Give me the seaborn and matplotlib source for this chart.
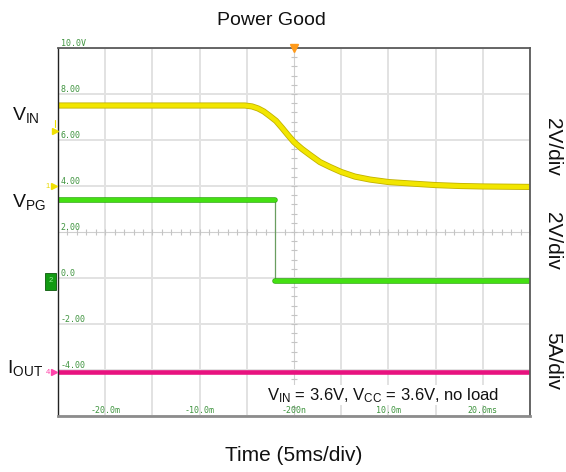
import matplotlib
matplotlib.use('Agg')
import numpy as np
import pandas as pd
import seaborn as sns
import matplotlib.pyplot as plt
from matplotlib import patheffects as pe
from matplotlib.patches import Rectangle
from matplotlib.transforms import blended_transform_factory

# ---------------- data (time in ms, value in display units) ----------------
vin_t = [-25.0, -5.2, -4.45, -3.8, -3.2, -2.55, -1.9, -1.25, -0.65, 0.0, 0.85, 1.7,
         2.75, 3.8, 5.0, 6.45, 8.05, 10.05, 12.3, 15.0, 17.6, 20.0, 25.0]
vin_v = [7.5, 7.5, 7.46, 7.37, 7.24, 7.04, 6.83, 6.52, 6.22, 5.91, 5.61, 5.35,
         5.04, 4.83, 4.61, 4.41, 4.28, 4.17, 4.11, 4.04, 4.0, 3.98, 3.96]

vpg_t = [-25.0, -2.0, -2.0, 25.0]
vpg_v = [3.37, 3.37, -0.12, -0.12]

iout_t = [-25.0, 25.0]
iout_v = [-4.1, -4.1]

x_ticks = [-20, -15, -10, -5, 0, 5, 10, 15, 20]
x_tick_labels = ['-20.0m', '', '-10.0m', '', '-200n', '', '10.0m', '', '20.0ms']
y_ticks = [10, 8, 6, 4, 2, 0, -2, -4]
y_tick_labels = ['10.0V', '8.00', '6.00', '4.00', '2.00', '0.0', '-2.00', '-4.00']

title = 'Power Good'
xlabel = 'Time (5ms/div)'
note = r'V$_{\mathrm{IN}}$ = 3.6V, V$_{\mathrm{CC}}$ = 3.6V, no load'

# ---------------- style ----------------
sns.set_theme(style='white')
plt.rcParams['font.family'] = ['Liberation Sans', 'DejaVu Sans']
plt.rcParams['mathtext.fontset'] = 'custom'
plt.rcParams['mathtext.rm'] = 'Liberation Sans'
plt.rcParams['mathtext.it'] = 'Liberation Sans:italic'
plt.rcParams['mathtext.bf'] = 'Liberation Sans:bold'

W, H = 566, 472
fig = plt.figure(figsize=(W / 100, H / 100), dpi=100)
ax = fig.add_axes([58 / W, 1 - 416 / H, 472 / W, 368 / H])
ax.set_xlim(-25, 25)
ax.set_ylim(-6, 10)

# grid (manual so that tick labels can sit above the note box)
for xv in np.arange(-25, 26, 5):
    if xv == 0:
        ax.axvline(xv, color='#cfcfcf', lw=0.8, zorder=0.5)
    else:
        ax.axvline(xv, color='#e2e2e2', lw=1.4, zorder=0.5)
for yv in np.arange(-6, 11, 2):
    if yv == 2:
        ax.axhline(yv, color='#cfcfcf', lw=0.8, zorder=0.5)
    else:
        ax.axhline(yv, color='#e2e2e2', lw=1.4, zorder=0.5)
# minor ticks on the centre lines
my = np.arange(-6, 10.01, 0.4)
ax.plot(np.zeros_like(my), my, ls='none', marker='_', ms=4, mew=0.8, color='#c4c4c4', zorder=0.6)
mx = np.arange(-25, 25.01, 1.0)
ax.plot(mx, np.full_like(mx, 2.0), ls='none', marker='|', ms=4, mew=0.8, color='#c4c4c4', zorder=0.6)

# ---------------- traces ----------------
df_vin = pd.DataFrame({'t': vin_t, 'v': vin_v})
df_pg = pd.DataFrame({'t': vpg_t, 'v': vpg_v})
df_io = pd.DataFrame({'t': iout_t, 'v': iout_v})

sns.lineplot(data=df_io, x='t', y='v', ax=ax, color='#e8127f', lw=3.3,
             estimator=None, sort=False, legend=False, zorder=2)
# thin falling edge of PG
sns.lineplot(data=df_pg, x='t', y='v', ax=ax, color='#6a9e60', lw=0.9,
             estimator=None, sort=False, legend=False, zorder=2)
for seg in (df_pg.iloc[0:2], df_pg.iloc[2:4]):
    sns.lineplot(data=seg, x='t', y='v', ax=ax, color='#44e012', lw=3.0,
                 estimator=None, sort=False, legend=False, zorder=2.1,
                 path_effects=[pe.Stroke(linewidth=4.0, foreground='#2ea810'), pe.Normal()])
sns.lineplot(data=df_vin, x='t', y='v', ax=ax, color='#f2e600', lw=3.2,
             estimator=None, sort=False, legend=False, zorder=2.2,
             path_effects=[pe.Stroke(linewidth=4.4, foreground='#c2b200'), pe.Normal()])

# ---------------- ticks (inside the plot, scope style) ----------------
ax.set_xticks(x_ticks, x_tick_labels)
ax.set_yticks(y_ticks, y_tick_labels)
ax.tick_params(axis='both', length=0, labelsize=6, labelcolor='#3f943f')
ax.tick_params(axis='y', pad=-2)
ax.tick_params(axis='x', pad=-0.6)
for lab in ax.get_yticklabels():
    lab.set_ha('left'); lab.set_va('bottom'); lab.set_fontfamily('DejaVu Sans Mono')
for lab in ax.get_xticklabels():
    lab.set_va('bottom'); lab.set_fontfamily('DejaVu Sans Mono')
ax.xaxis.set_zorder(4)
ax.yaxis.set_zorder(4)
ax.set_xlabel('')
ax.set_ylabel('')

# spines
ax.spines['left'].set_color('#222222'); ax.spines['left'].set_linewidth(1.0)
ax.spines['top'].set_color('#5a5a5a'); ax.spines['top'].set_linewidth(1.3)
ax.spines['right'].set_color('#5a5a5a'); ax.spines['right'].set_linewidth(1.3)
ax.spines['bottom'].set_color('#8c8c8c'); ax.spines['bottom'].set_linewidth(2.0)
for s in ax.spines.values():
    s.set_zorder(5)

# trigger marker at top centre
ax.plot([0], [10], marker='v', ms=6, color='#ff9a1a', mec='#ff9a1a', clip_on=False, zorder=6)

# channel markers on the left edge
tr = blended_transform_factory(ax.transAxes, ax.transData)
ax.plot([-0.006], [6.4], marker='>', ms=4.5, color='#f0e000', transform=tr, clip_on=False, zorder=6)
ax.plot([-0.006, -0.006], [6.55, 6.85], color='#f0e000', lw=0.8, transform=tr, clip_on=False, zorder=6)
ax.text(-0.022, 4.0, '1', color='#e8d800', fontsize=5.5, ha='center', va='center', transform=tr, zorder=6)
ax.plot([-0.008], [4.0], marker='>', ms=4, color='#f0e000', transform=tr, clip_on=False, zorder=6)
ax.add_patch(Rectangle((-0.0275, -0.52), 0.0235, 0.74, transform=tr, clip_on=False,
                       facecolor='#129a12', edgecolor='#0a5a0a', lw=0.6, zorder=6))
ax.text(-0.016, -0.12, '2', color='#9cf09c', fontsize=5.5, ha='center', va='center', transform=tr, zorder=7)
ax.text(-0.022, -4.1, '4', color='#ff44aa', fontsize=5.5, ha='center', va='center', transform=tr, zorder=6)
ax.plot([-0.008], [-4.1], marker='>', ms=4, color='#ff44aa', transform=tr, clip_on=False, zorder=6)

# note with white background
ax.text(-2.86, -5.1, note, fontsize=12, ha='left', va='center', color='#111111', zorder=3,
        bbox=dict(facecolor='white', edgecolor='none', pad=0.6))

# title and x label
ax.set_title(title, fontsize=14, x=(271 - 58) / 472, pad=16.5, color='#111111')
ax.set_xlabel(xlabel, fontsize=15, color='#111111')
ax.xaxis.set_label_coords(0.5, (416 - 446) / 368)

# channel labels left and scale labels right
fig.text(12 / W, 1 - 120 / H, r'V$_{\mathrm{IN}}$', fontsize=14, ha='left', va='baseline', color='#111111')
fig.text(12 / W, 1 - 207 / H, r'V$_{\mathrm{PG}}$', fontsize=14, ha='left', va='baseline', color='#111111')
fig.text(7 / W, 1 - 373 / H, r'I$_{\mathrm{OUT}}$', fontsize=14, ha='left', va='baseline', color='#111111')
for yy, txt in ((147, '2V/div'), (241, '2V/div'), (361, '5A/div')):
    fig.text(553 / W, 1 - yy / H, txt, fontsize=15, rotation=-90, ha='center', va='center', color='#111111')

fig.savefig('out.png', dpi=100)
